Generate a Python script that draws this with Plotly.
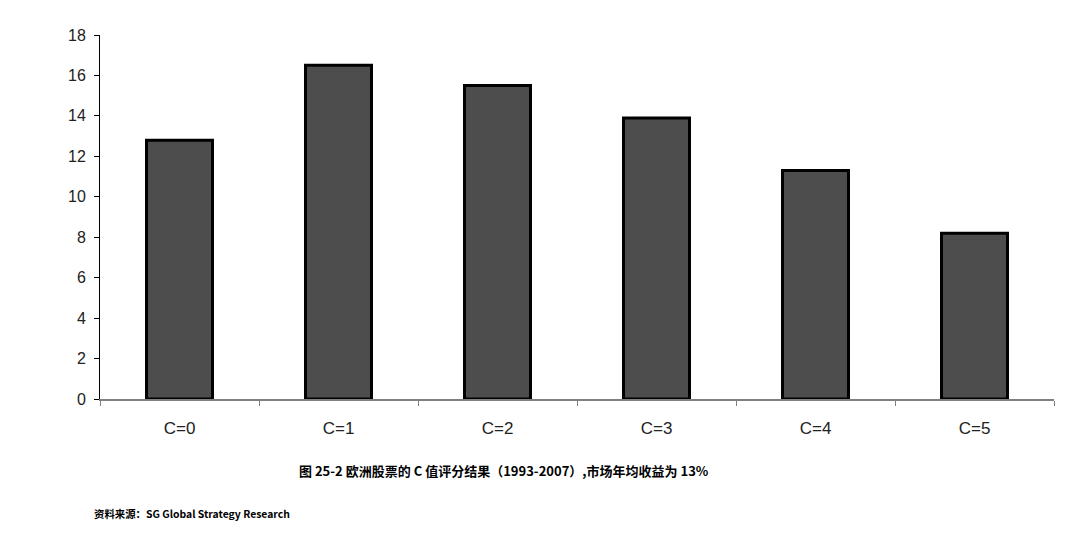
import plotly.graph_objects as go

categories = ["C=0", "C=1", "C=2", "C=3", "C=4", "C=5"]
values = [12.8, 16.5, 15.5, 13.9, 11.3, 8.2]
y_ticks = list(range(0, 19, 2))

caption = "图 25-2 欧洲股票的 C 值评分结果（1993-2007）,市场年均收益为 13%"
source = "资料来源：SG Global Strategy Research"

fig = go.Figure(go.Bar(
    x=categories, y=values,
    marker=dict(color="#4d4d4d", line=dict(color="#000000", width=3)),
    width=0.415,
))

fig.update_layout(
    width=1080, height=550,
    margin=dict(l=92, r=34, t=27, b=159),
    paper_bgcolor="white", plot_bgcolor="white",
    showlegend=False,
    font=dict(family="Liberation Sans, Arial, sans-serif", size=16, color="#222"),
)
fig.update_xaxes(
    showline=True, linecolor="#808080", linewidth=1.5,
    ticks="outside", tickson="boundaries", ticklen=5, tickcolor="#808080",
    showgrid=False, tickfont=dict(size=17), ticklabelstandoff=13,
)
fig.update_yaxes(
    range=[0, 18], tickvals=y_ticks, showline=True, linecolor="#000", linewidth=1,
    ticks="outside", ticklen=5, tickcolor="#000", showgrid=False, zeroline=False,
    tickfont=dict(size=16), ticklabelstandoff=5,
)

fig.add_annotation(
    text="<b>" + caption + "</b>", xref="paper", yref="paper",
    x=(504 - 100) / 954, y=-(470 - 399) / 364, xanchor="center", yanchor="middle",
    showarrow=False, font=dict(family="Noto Sans CJK SC", size=13, color="#000"),
)
fig.add_annotation(
    text="<b>" + source + "</b>", xref="paper", yref="paper",
    x=(92 - 100) / 954, y=-(513 - 399) / 364, xanchor="left", yanchor="middle",
    showarrow=False, font=dict(family="Noto Sans CJK SC", size=10.4, color="#000"),
)

fig.write_html("out.html")
